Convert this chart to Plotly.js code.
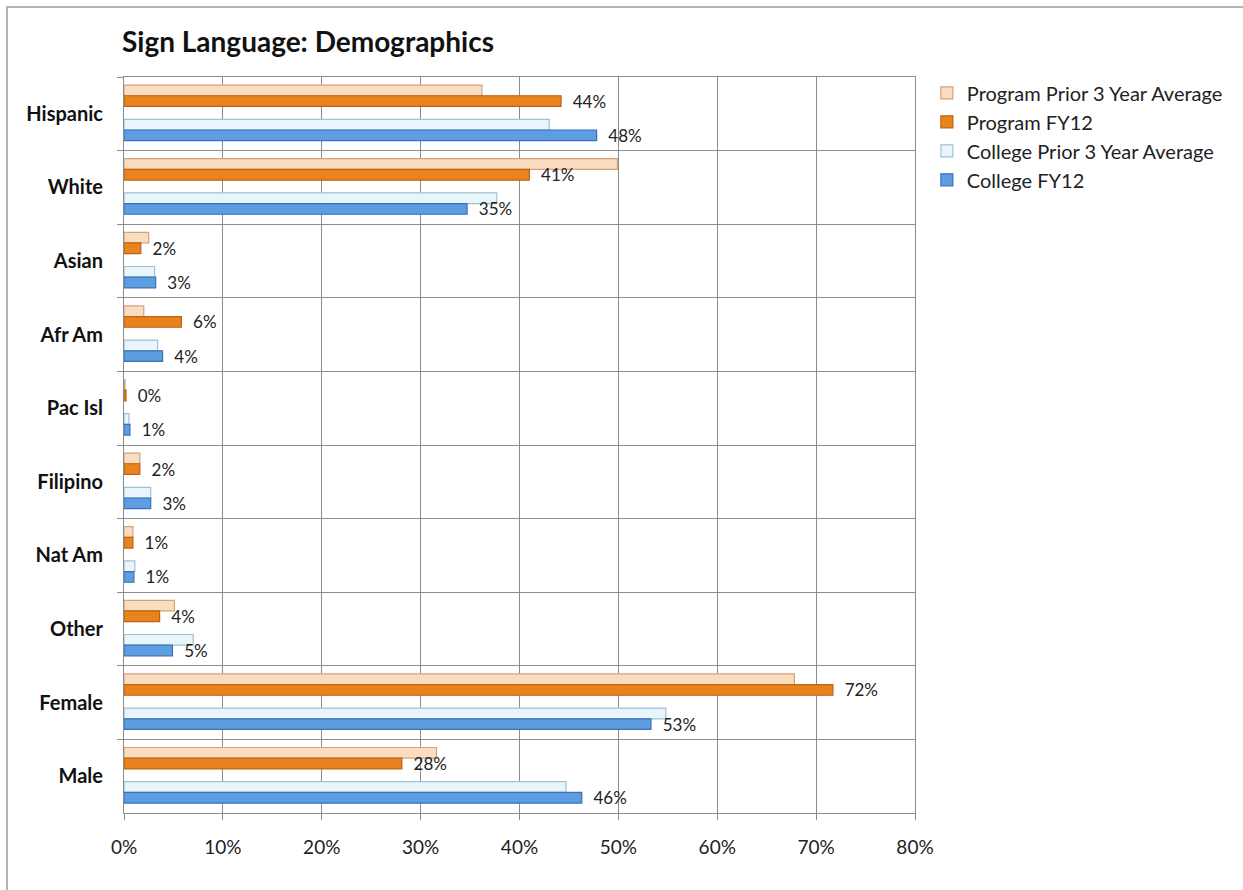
<!DOCTYPE html>
<html>
<head>
<meta charset="utf-8">
<script src="https://cdn.plot.ly/plotly-3.0.1.min.js"></script>
<style>
  html, body { margin: 0; padding: 0; background: #fff; overflow: hidden; }
  #frame { position: absolute; left: 6px; top: 6px; width: 1400px; height: 1000px; border: 2px solid #b4b4b4; box-sizing: border-box; }
  #chart { position: absolute; left: 0; top: 0; width: 1243px; height: 890px; }
</style>
</head>
<body>
<div id="frame"></div>
<div id="chart"></div>
<script>
const categories = ["Hispanic", "White", "Asian", "Afr Am", "Pac Isl", "Filipino", "Nat Am", "Other", "Female", "Male"];
const programPrior = [36.2, 49.9, 2.5, 2.0, 0.1, 1.6, 0.9, 5.1, 67.8, 31.6];
const programFY12 = [44.2, 41.0, 1.7, 5.8, 0.2, 1.6, 0.9, 3.6, 71.7, 28.1];
const collegePrior = [43.0, 37.7, 3.1, 3.4, 0.5, 2.7, 1.1, 7.0, 54.8, 44.7];
const collegeFY12 = [47.8, 34.7, 3.2, 3.9, 0.6, 2.7, 1.0, 4.9, 53.3, 46.3];
const tickVals = [0, 10, 20, 30, 40, 50, 60, 70, 80];
const tickText = ["0%", "10%", "20%", "30%", "40%", "50%", "60%", "70%", "80%"];

const FONT = "Lato, 'Liberation Sans', sans-serif";
const W = 0.145;

function bar(name, vals, fill, edge, offset, showLabel) {
  const t = {
    type: "bar",
    orientation: "h",
    name: name,
    y: categories,
    x: vals,
    width: W,
    offset: offset,
    marker: { color: fill, line: { color: edge, width: 1.2 } },
    hoverinfo: "x+name",
    cliponaxis: false,
    constraintext: "none"
  };
  if (showLabel) {
    t.texttemplate = "\u00a0\u00a0%{x:.0f}%";
    t.textposition = "outside";
    t.textfont = { family: FONT, size: 17, color: "#222" };
  } else {
    t.textposition = "none";
  }
  return t;
}

const data = [
  bar("Program Prior 3 Year Average", programPrior, "#fadcc0", "#d6a27a", -0.39, false),
  bar("Program FY12", programFY12, "#e8831f", "#bf620d", -0.245, true),
  bar("College Prior 3 Year Average", collegePrior, "#e8f5fb", "#9fc2cf", 0.075, false),
  bar("College FY12", collegeFY12, "#5d9de2", "#3a70b6", 0.22, true)
];

const layout = {
  width: 1243,
  height: 890,
  margin: { l: 124, r: 328, t: 77, b: 77, pad: 0 },
  paper_bgcolor: "rgba(0,0,0,0)",
  plot_bgcolor: "#fff",
  font: { family: FONT, color: "#222" },
  title: {
    text: "<b>Sign Language: Demographics</b>",
    font: { family: FONT, size: 28, color: "#111" },
    x: 122 / 1243, xanchor: "left", xref: "container",
    y: 1 - 42 / 890, yanchor: "middle", yref: "container"
  },
  barmode: "group",
  showlegend: true,
  legend: {
    x: 1.015, xanchor: "left", y: 1.005, yanchor: "top",
    font: { family: FONT, size: 20, color: "#222" },
    traceorder: "normal",
    itemwidth: 30,
    bgcolor: "rgba(0,0,0,0)"
  },
  xaxis: {
    range: [0, 80],
    tickvals: tickVals,
    ticktext: tickText,
    showgrid: true,
    gridcolor: "#8c8c8c",
    gridwidth: 1,
    zeroline: false,
    showline: true,
    linecolor: "#8c8c8c",
    linewidth: 1,
    mirror: true,
    ticks: "outside",
    ticklen: 6,
    tickcolor: "#8c8c8c",
    ticklabelstandoff: 11,
    tickfont: { family: FONT, size: 19, color: "#222" },
    fixedrange: true
  },
  yaxis: {
    type: "category",
    autorange: "reversed",
    tickson: "boundaries",
    showgrid: true,
    gridcolor: "#8c8c8c",
    gridwidth: 1,
    showline: true,
    linecolor: "#8c8c8c",
    linewidth: 1,
    mirror: true,
    ticks: "outside",
    ticklen: 6,
    tickcolor: "#8c8c8c",
    ticklabelstandoff: 16,
    tickfont: { family: FONT, size: 20, color: "#111", weight: "bold" },
    fixedrange: true
  }
};

Plotly.newPlot("chart", data, layout, { displayModeBar: false, staticPlot: true });
</script>
</body>
</html>
